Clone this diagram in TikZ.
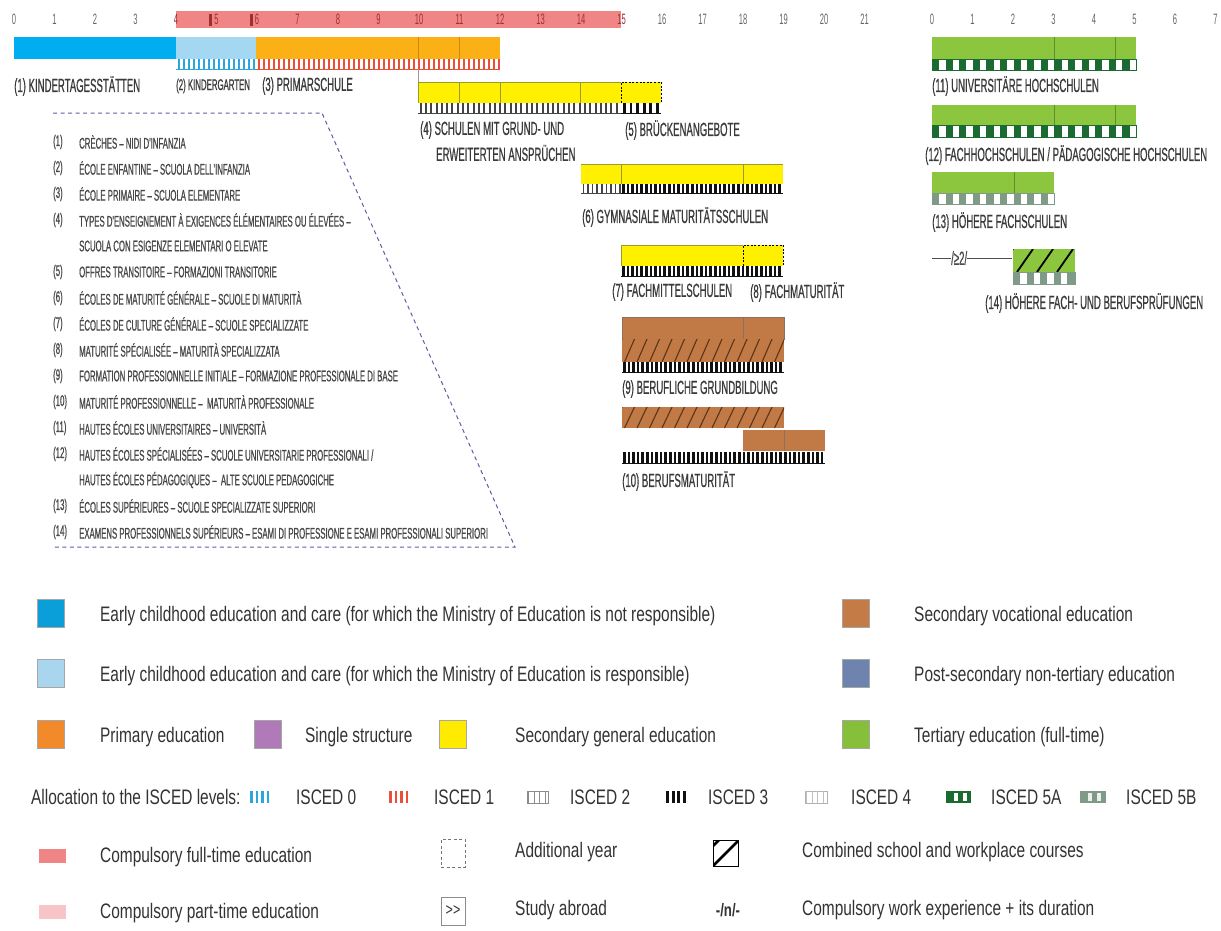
\documentclass[tikz,border=0pt]{standalone}
\usepackage{fontspec}
\setmainfont{Liberation Sans}
\newfontfamily\cnd[FakeStretch=0.505]{Liberation Sans}
\newfontfamily\cndb[FakeStretch=0.505,FakeBold=0.6]{Liberation Sans}
\newfontfamily\nar[FakeStretch=0.735]{Liberation Sans}
\definecolor{kita}{HTML}{00AEEF}
\definecolor{kiga}{HTML}{A3D7F2}
\definecolor{prim}{HTML}{FBB116}
\definecolor{primD}{HTML}{C98A10}
\definecolor{yel}{HTML}{FFF000}
\definecolor{yelD}{HTML}{9A9A30}
\definecolor{brn}{HTML}{C17A46}
\definecolor{brnD}{HTML}{5A3418}
\definecolor{grn}{HTML}{8CC63F}
\definecolor{grnD}{HTML}{5E8F2A}
\definecolor{gfa}{HTML}{1A6A32}
\definecolor{gfb}{HTML}{7F9A86}
\definecolor{isczero}{HTML}{2BA6DE}
\definecolor{iscone}{HTML}{E8503A}
\definecolor{isctwo}{HTML}{444444}
\definecolor{iscthree}{HTML}{111111}
\definecolor{iscfour}{HTML}{BBBBBB}
\definecolor{cfull}{HTML}{F08585}
\definecolor{cfullD}{HTML}{A03030}
\definecolor{cpart}{HTML}{F7C5C8}
\definecolor{trap}{HTML}{5B5EA6}
\definecolor{legblue}{HTML}{0A9FD8}
\definecolor{leglblue}{HTML}{A9D5EE}
\definecolor{legorange}{HTML}{F2892B}
\definecolor{legpurple}{HTML}{B07AB8}
\definecolor{legyellow}{HTML}{FFEB00}
\definecolor{legbrown}{HTML}{C57B45}
\definecolor{legslate}{HTML}{6E84AE}
\definecolor{leggreen}{HTML}{86BF3A}
\definecolor{txt}{HTML}{333333}
\definecolor{lbltxt}{HTML}{3A3A3A}

% vertical ISCED stripes: x1 x2 y1 y2 colour barwidth period
\newcommand{\vstripes}[7]{%
  \fill[white] (#1,#3) rectangle (#2,#4);
  \pgfmathtruncatemacro{\stN}{(#2-#1)/#7-0.5}%
  \foreach \k in {0,...,\stN}{\fill[#5] ({#1+#7/2+\k*#7-#6/2},#3) rectangle ++(#6,{#4-#3});}%
  \draw[#5,line width=0.7] (#1,#4) -- (#2,#4);%
}
% square ISCED 5 strips: x1 x2 y1 y2 colour
\newcommand{\sqstrip}[5]{%
  \fill[white] (#1,#3) rectangle (#2,#4);
  \pgfmathtruncatemacro{\sqN}{(#2-#1)/13.6-0.3}%
  \foreach \k in {0,...,\sqN}{\fill[#5] ({#1+\k*13.6},#3) rectangle ++(7.2,{#4-#3});}%
  \draw[#5,line width=0.7] (#1,#3) rectangle (#2,#4);%
}
% hatched box: x1 x2 y1 y2 fill linecolour spacing linewidth dx
\newcommand{\hatchbox}[9]{%
  \begin{scope}
  \clip (#1,#3) rectangle (#2,#4);
  \fill[#5] (#1,#3) rectangle (#2,#4);
  \pgfmathtruncatemacro{\hN}{(#2-#1)/#7+2}%
  \foreach \k in {0,...,\hN}{\draw[#6,line width=#8] ({#1-#9+\k*#7},#4) -- ++(#9,{#3-#4});}%
  \end{scope}
}
% small legend bars icon: x y colour barwidth
\newcommand{\iconbars}[4]{%
  \foreach \k in {0,...,3}{\fill[#3] ({#1+\k*5.5},{#2-6}) rectangle ++(#4,12);}%
}

\tikzset{
  ax/.style={font=\cnd\fontsize{15}{15}\selectfont, text=black!60, inner sep=0pt},
  axr/.style={ax, text=cfullD},
  lbl/.style={font=\cndb\fontsize{19}{19}\selectfont, text=lbltxt, anchor=west, inner sep=0pt},
  lbls/.style={lbl, font=\cndb\fontsize{15.5}{15.5}\selectfont},
  lst/.style={font=\cndb\fontsize{15.4}{15.4}\selectfont, text=black!72, anchor=west, inner sep=0pt},
  leg/.style={font=\nar\fontsize{21}{21}\selectfont, text=txt, anchor=west, inner sep=0pt},
  legsq/.style={draw=black!35, line width=0.5, minimum width=27, minimum height=28, inner sep=0pt},
  legbar/.style={minimum width=27, minimum height=14, inner sep=0pt},
  divline/.style={line width=0.5},
}

\begin{document}
\begin{tikzpicture}[x=1pt,y=-1pt]
\useasboundingbox (0,0) rectangle (1221,930);
\fill[white] (0,0) rectangle (1221,930);

% ---------- age axis (left) ----------
\fill[cfull] (176,11) rectangle (621,28);
\fill[cfullD] (209,14) rectangle (211.5,26);
\fill[cfullD] (250,14) rectangle (252.5,26);
\foreach \a in {0,1,2,3,16,17,18,19,20,21}{\node[ax] (axL\a) at ({14+40.5*\a},19) {\a};}
\foreach \a in {4,...,15}{\node[axr] (axL\a) at ({14+40.5*\a},19) {\a};}
% ---------- age axis (right) ----------
\foreach \a in {0,...,7}{\node[ax] (axR\a) at ({932+40.5*\a},19) {\a};}

% ---------- row 1 ----------
\fill[kita] (14,37) rectangle (176,59);
\fill[kiga] (176,37) rectangle (256,59);
\fill[prim] (256,37) rectangle (500,59);
\draw[primD,divline] (418,37) -- (418,59) (459,37) -- (459,59);
\vstripes{176}{256}{59}{69}{isczero}{2}{5}
\vstripes{256}{500}{59}{69}{iscone}{2}{5}
\node[lbl] (l1) at (14,86) {(1) KINDERTAGESSTÄTTEN};
\node[lbls] (l2) at (176,86) {(2) KINDERGARTEN};
\node[lbl] (l3) at (262,86) {(3) PRIMARSCHULE};

% ---------- row 4/5 ----------
\draw[black!40,line width=0.5] (418,69) -- (418,82);
\fill[yel] (418,82) rectangle (661,103);
\draw[yelD,divline] (418,82) -- (621,82) (418,82) -- (418,103) (459,82) -- (459,103) (500,82) -- (500,103) (580,82) -- (580,103);
\draw[black,line width=0.9,dash pattern=on 2pt off 1.6pt] (621,103) -- (621,82) -- (661,82) -- (661,103);
\vstripes{418}{621}{103}{113}{isctwo}{2}{5.3}
\vstripes{621}{661}{103}{113}{iscthree}{2.8}{6.6}
\node[lbl] (l4) at (420,130) {(4) SCHULEN MIT GRUND- UND};
\node[lbl] (l4b) at (436,153) {ERWEITERTEN ANSPRÜCHEN};
\node[lbl] (l5) at (625,130) {(5) BRÜCKENANGEBOTE};

% ---------- row 6 ----------
\fill[yel] (581,164) rectangle (783,184);
\draw[yelD,divline] (581,164) -- (783,164) (621,164) -- (621,184) (743,164) -- (743,184);
\vstripes{581}{621}{184}{193}{isctwo}{1.6}{4.6}
\vstripes{621}{783}{184}{193}{iscthree}{2.6}{4.6}
\node[lbl] (l6) at (582,217) {(6) GYMNASIALE MATURITÄTSSCHULEN};

% ---------- row 7/8 ----------
\fill[yel] (621,245) rectangle (783,266);
\draw[yelD,divline] (621,245) -- (743,245) (621,245) -- (621,266);
\draw[black,line width=0.9,dash pattern=on 2pt off 1.6pt] (743,266) -- (743,245) -- (783,245) -- (783,266);
\vstripes{621}{783}{266}{276}{iscthree}{2.6}{4.6}
\node[lbl] (l7) at (612,292) {(7) FACHMITTELSCHULEN};
\node[lbl] (l8) at (750,292) {(8) FACHMATURITÄT};

% ---------- row 9 ----------
\fill[brn] (622,317) rectangle (784,339);
\draw[brnD!70,divline] (622,317) rectangle (784,339) (743,317) -- (743,339);
\hatchbox{622}{784}{339}{362}{brn}{brnD}{12.5}{1.1}{10}
\vstripes{622}{784}{362}{372}{iscthree}{2.6}{4.6}
\node[lbl] (l9) at (622,389) {(9) BERUFLICHE GRUNDBILDUNG};

% ---------- row 10 ----------
\hatchbox{622}{784}{407}{428}{brn}{brnD}{12.5}{1.1}{10}
\fill[brn] (743,430) rectangle (825,451);
\draw[brnD!70,divline] (784,430) -- (784,451);
\vstripes{622}{825}{452}{463}{iscthree}{2.6}{4.6}
\node[lbl] (l10) at (622,481) {(10) BERUFSMATURITÄT};

% ---------- tertiary (right) ----------
\fill[grn] (932,37) rectangle (1136,59);
\draw[grnD,divline] (1054,37) -- (1054,59) (1115,37) -- (1115,59);
\sqstrip{932}{1136}{59}{70}{gfa}
\node[lbl] (l11) at (932,86) {(11) UNIVERSITÄRE HOCHSCHULEN};

\fill[grn] (932,105) rectangle (1136,125);
\draw[grnD,divline] (1054,105) -- (1054,125) (1115,105) -- (1115,125);
\sqstrip{932}{1136}{125}{137}{gfa}
\node[lbl] (l12) at (925,155) {(12) FACHHOCHSCHULEN / PÄDAGOGISCHE HOCHSCHULEN};

\fill[grn] (932,172) rectangle (1054,193);
\draw[grnD,divline] (1014,172) -- (1014,193);
\sqstrip{932}{1054}{193}{204}{gfb}
\node[lbl] (l13) at (932,222) {(13) HÖHERE FACHSCHULEN};

\node[lbl, text=black!70] (w14) at (951,258) {/≥2/};
\coordinate (w14a) at (932,258);
\coordinate (w14b) at (1012,258);
\draw[black!70,line width=0.7] (w14a) -- (w14.west) (w14.east) -- (w14b);
\hatchbox{1013}{1075}{249}{272}{grn}{black}{20}{1.8}{16}
\sqstrip{1013}{1075}{272}{284}{gfb}
\node[lbl] (l14) at (985,303) {(14) HÖHERE FACH- UND BERUFSPRÜFUNGEN};

% ---------- dashed translation box ----------
\coordinate (tA) at (53,113);
\coordinate (tB) at (322,113);
\coordinate (tC) at (515,547);
\coordinate (tD) at (53,547);
\draw[trap,line width=1,dash pattern=on 4pt off 3.5pt] (tA) -- (tB) -- (tC) -- (tD);

\node[lst] (n1) at (53,142) {(1)};   \node[lst] (t1) at (79,142) {CRÈCHES – NIDI D'INFANZIA};
\node[lst] (n2) at (53,168) {(2)};   \node[lst] (t2) at (79,168) {ÉCOLE ENFANTINE – SCUOLA DELL'INFANZIA};
\node[lst] (n3) at (53,194) {(3)};   \node[lst] (t3) at (79,194) {ÉCOLE PRIMAIRE – SCUOLA ELEMENTARE};
\node[lst] (n4) at (53,220) {(4)};   \node[lst] (t4) at (79,220) {TYPES D'ENSEIGNEMENT À EXIGENCES ÉLÉMENTAIRES OU ÉLEVÉES –};
\node[lst] (t4b) at (79,246) {SCUOLA CON ESIGENZE ELEMENTARI O ELEVATE};
\node[lst] (n5) at (53,272) {(5)};   \node[lst] (t5) at (79,272) {OFFRES TRANSITOIRE – FORMAZIONI TRANSITORIE};
\node[lst] (n6) at (53,298) {(6)};   \node[lst] (t6) at (79,298) {ÉCOLES DE MATURITÉ GÉNÉRALE – SCUOLE DI MATURITÀ};
\node[lst] (n7) at (53,324) {(7)};   \node[lst] (t7) at (79,324) {ÉCOLES DE CULTURE GÉNÉRALE – SCUOLE SPECIALIZZATE};
\node[lst] (n8) at (53,350) {(8)};   \node[lst] (t8) at (79,350) {MATURITÉ SPÉCIALISÉE – MATURITÀ SPECIALIZZATA};
\node[lst] (n9) at (53,376) {(9)};   \node[lst] (t9) at (79,376) {FORMATION PROFESSIONNELLE INITIALE – FORMAZIONE PROFESSIONALE DI BASE};
\node[lst] (n10) at (53,402) {(10)}; \node[lst] (t10) at (79,402) {MATURITÉ PROFESSIONNELLE –\ \ MATURITÀ PROFESSIONALE};
\node[lst] (n11) at (53,428) {(11)}; \node[lst] (t11) at (79,428) {HAUTES ÉCOLES UNIVERSITAIRES – UNIVERSITÀ};
\node[lst] (n12) at (53,454) {(12)}; \node[lst] (t12) at (79,454) {HAUTES ÉCOLES SPÉCIALISÉES – SCUOLE UNIVERSITARIE PROFESSIONALI /};
\node[lst] (t12b) at (79,480) {HAUTES ÉCOLES PÉDAGOGIQUES –\ \ ALTE SCUOLE PEDAGOGICHE};
\node[lst] (n13) at (53,506) {(13)}; \node[lst] (t13) at (79,506) {ÉCOLES SUPÉRIEURES – SCUOLE SPECIALIZZATE SUPERIORI};
\node[lst] (n14) at (53,532) {(14)}; \node[lst] (t14) at (79,532) {EXAMENS PROFESSIONNELS SUPÉRIEURS – ESAMI DI PROFESSIONE E ESAMI PROFESSIONALI SUPERIORI};

% ---------- legend ----------
\node[legsq, fill=legblue] (sq1) at (51,613) {};
\node[leg] (g1) at (100,616) {Early childhood education and care (for which the Ministry of Education is not responsible)};
\node[legsq, fill=leglblue] (sq2) at (51,673) {};
\node[leg] (g2) at (100,676) {Early childhood education and care (for which the Ministry of Education is responsible)};
\node[legsq, fill=legorange] (sq3) at (51,734) {};
\node[leg] (g3) at (100,737) {Primary education};
\node[legsq, fill=legpurple] (sq4) at (268,734) {};
\node[leg] (g4) at (305,737) {Single structure};
\node[legsq, fill=legyellow] (sq5) at (453,734) {};
\node[leg] (g5) at (515,737) {Secondary general education};
\node[legsq, fill=legbrown] (sq6) at (856,613) {};
\node[leg] (g6) at (914,616) {Secondary vocational education};
\node[legsq, fill=legslate] (sq7) at (856,673) {};
\node[leg] (g7) at (914,676) {Post-secondary non-tertiary education};
\node[legsq, fill=leggreen] (sq8) at (856,734) {};
\node[leg] (g8) at (914,737) {Tertiary education (full-time)};

% ISCED row
\node[leg] (gi) at (31,797) {Allocation to the ISCED levels:};
\iconbars{250}{797}{isczero}{2.6}
\node[leg] (gi0) at (296,797) {ISCED 0};
\iconbars{389}{797}{iscone}{2.6}
\node[leg] (gi1) at (434,797) {ISCED 1};
\draw[black!45,line width=0.4] (527,791) rectangle (548,803);
\iconbars{528}{797}{black!45}{1.3}
\node[leg] (gi2) at (570,797) {ISCED 2};
\iconbars{666}{797}{iscthree}{3}
\node[leg] (gi3) at (708,797) {ISCED 3};
\draw[black!30,line width=0.4] (805,791) rectangle (827,803);
\iconbars{806}{797}{black!25}{1.3}
\node[leg] (gi4) at (851,797) {ISCED 4};
\fill[gfa] (946,791) rectangle (971,803);
\fill[white] (954,793) rectangle (958,801);
\fill[white] (963,793) rectangle (967,801);
\node[leg] (gi5a) at (991,797) {ISCED 5A};
\fill[gfb] (1080,791) rectangle (1106,803);
\fill[white!85!gfb] (1088,793) rectangle (1092,801);
\fill[white!85!gfb] (1097,793) rectangle (1101,801);
\node[leg] (gi5b) at (1126,797) {ISCED 5B};

% bottom rows
\node[legbar, fill=cfull] (cf) at (52,856) {};
\node[leg] (gcf) at (100,857) {Compulsory full-time education};
\node[legbar, fill=cpart] (cp) at (52,912) {};
\node[leg] (gcp) at (100,913) {Compulsory part-time education};
\node[draw=black!55, dash pattern=on 3pt off 2.5pt, line width=0.6, minimum width=24, minimum height=28, inner sep=0pt] (ay) at (453,853) {};
\node[leg] (gay) at (515,852) {Additional year};
\node[draw=black!45, line width=0.5, minimum width=24, minimum height=28, inner sep=0pt, font=\nar\fontsize{17}{17}\selectfont, text=txt] (abr) at (453,911) {>>};
\node[leg] (gabr) at (515,910) {Study abroad};
\begin{scope}
\clip (713,840) rectangle (738,866);
\draw[black,line width=2.6] (713,866) -- (739,840);
\draw[black,line width=2.6] (702,857) -- (719,840);
\end{scope}
\draw[black,line width=0.8] (713,840) rectangle (738,866);
\node[leg] (gcw) at (802,852) {Combined school and workplace courses};
\node[font=\nar\bfseries\fontsize{18}{18}\selectfont, text=txt, inner sep=0pt] (wexp) at (728,910) {-/n/-};
\node[leg] (gwe) at (802,910) {Compulsory work experience + its duration};

\end{tikzpicture}
\end{document}
